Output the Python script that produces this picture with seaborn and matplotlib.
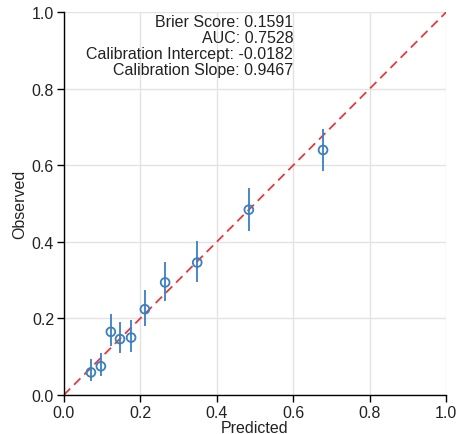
import matplotlib
matplotlib.use("Agg")
import matplotlib.pyplot as plt
import seaborn as sns
import numpy as np
import pandas as pd

sns.set_theme(style="whitegrid")
plt.rcParams['font.family'] = ['Liberation Sans', 'DejaVu Sans']

predicted = [0.071, 0.097, 0.123, 0.147, 0.176, 0.212, 0.265, 0.349, 0.484, 0.678]
observed = [0.059, 0.075, 0.165, 0.146, 0.150, 0.224, 0.294, 0.346, 0.484, 0.640]
ci_low = [0.037, 0.050, 0.127, 0.110, 0.113, 0.181, 0.246, 0.296, 0.429, 0.584]
ci_high = [0.094, 0.110, 0.211, 0.191, 0.195, 0.275, 0.348, 0.403, 0.542, 0.695]
metric_labels = ["Brier Score", "AUC", "Calibration Intercept", "Calibration Slope"]
metric_values = ["0.1591", "0.7528", "-0.0182", "0.9467"]
ticks = [0.0, 0.2, 0.4, 0.6, 0.8, 1.0]

df = pd.DataFrame({"Predicted": predicted, "Observed": observed,
                   "lo": ci_low, "hi": ci_high})

fig = plt.figure(figsize=(4.59, 4.35), dpi=100)
ax = fig.add_axes([0.139, 0.0897, 0.833, 0.880])

blue = "#3a7fc1"
sns.lineplot(x=[0, 1], y=[0, 1], ax=ax, color="#e8383d", linestyle=(0, (5, 3)),
             linewidth=1.3, zorder=2)
yerr = np.array([df["Observed"] - df["lo"], df["hi"] - df["Observed"]])
ax.errorbar(df["Predicted"], df["Observed"], yerr=yerr, fmt="none",
            ecolor=blue, elinewidth=1.3, capsize=0, zorder=3)
sns.scatterplot(data=df, x="Predicted", y="Observed", ax=ax, marker="o",
                s=40, facecolor="none", edgecolor=blue, linewidth=1.3, zorder=4)

fs = 11.5
ax.set_xlim(0, 1)
ax.set_ylim(0, 1)
ax.set_xticks(ticks)
ax.set_yticks(ticks)
ax.set_xticklabels([f"{t:.1f}" for t in ticks])
ax.set_yticklabels([f"{t:.1f}" for t in ticks])
ax.set_xlabel("Predicted", fontsize=fs, labelpad=0, color="#222222")
ax.set_ylabel("Observed", fontsize=fs, labelpad=3, color="#222222")
ax.tick_params(axis="both", labelsize=fs, length=5, width=1, color="black",
               direction="out", pad=2)
for t in ax.get_xticklabels() + ax.get_yticklabels():
    t.set_color("#222222")
ax.xaxis.set_ticks_position("bottom")
ax.yaxis.set_ticks_position("left")
ax.grid(True, color="#e3e3e3", linewidth=1)
ax.set_facecolor("white")
for side in ["top", "right"]:
    ax.spines[side].set_visible(False)
for side in ["left", "bottom"]:
    ax.spines[side].set_visible(True)
    ax.spines[side].set_color("black")
    ax.spines[side].set_linewidth(1)

text = "\n".join(f"{l}: {v}" for l, v in zip(metric_labels, metric_values))
ax.text(0.6, 0.995, text, ha="right", va="top", fontsize=fs,
        linespacing=1.08, color="#222222", transform=ax.transData)

fig.savefig("out.png", dpi=100)
